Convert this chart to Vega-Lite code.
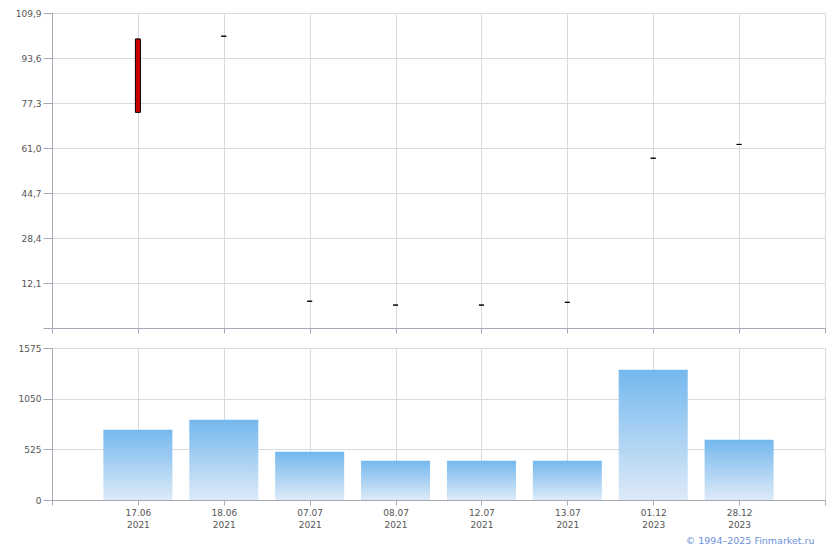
{
  "$schema": "https://vega.github.io/schema/vega-lite/v6.json",
  "padding": {"left": 15, "top": 9, "right": 5, "bottom": 3},
  "background": "white",
  "datasets": {
    "quotes": [
      {"date": "17.06 2021", "open": 100.5, "close": 73.9, "high": 100.7, "low": 73.9, "volume": 728},
      {"date": "18.06 2021", "open": 101.5, "close": 101.5, "high": 101.5, "low": 101.5, "volume": 832},
      {"date": "07.07 2021", "open": 5.5, "close": 5.5, "high": 5.5, "low": 5.5, "volume": 500},
      {"date": "08.07 2021", "open": 4.1, "close": 4.1, "high": 4.1, "low": 4.1, "volume": 407},
      {"date": "12.07 2021", "open": 4.1, "close": 4.1, "high": 4.1, "low": 4.1, "volume": 407},
      {"date": "13.07 2021", "open": 5.1, "close": 5.1, "high": 5.1, "low": 5.1, "volume": 407},
      {"date": "01.12 2023", "open": 57.3, "close": 57.3, "high": 57.3, "low": 57.3, "volume": 1350},
      {"date": "28.12 2023", "open": 62.3, "close": 62.3, "high": 62.3, "low": 62.3, "volume": 625}
    ]
  },
  "data": {"name": "quotes"},
  "config": {
    "view": {"stroke": null},
    "axis": {
      "domainColor": "#a6aab6",
      "tickColor": "#a6aab6",
      "gridColor": "#d5dce1",
      "labelColor": "#555555",
      "labelFont": "DejaVu Sans",
      "labelFontSize": 9,
      "title": null
    }
  },
  "bounds": "flush",
  "spacing": 20,
  "title": {
    "text": "© 1994–2025 Finmarket.ru",
    "orient": "bottom",
    "anchor": "end",
    "font": "DejaVu Sans",
    "fontSize": 9.5,
    "fontWeight": "normal",
    "color": "#6c8fd9",
    "offset": 7,
    "dx": -11
  },
  "vconcat": [
    {
      "width": 773,
      "height": 315,
      "encoding": {
        "x": {
          "field": "date",
          "type": "ordinal",
          "sort": null,
          "scale": {"type": "point", "padding": 0, "domain": ["L", "17.06 2021", "18.06 2021", "07.07 2021", "08.07 2021", "12.07 2021", "13.07 2021", "01.12 2023", "28.12 2023", "R"]},
          "axis": {"labels": false, "tickSize": 5, "grid": true, "title": null}
        }
      },
      "layer": [
        {
          "mark": {"type": "rule", "color": "#000000", "strokeWidth": 1},
          "encoding": {
            "y": {
              "field": "low",
              "type": "quantitative",
              "scale": {"domain": [-4.2, 109.9], "nice": false, "zero": false},
              "axis": {
                "values": [-4.2, 12.1, 28.4, 44.7, 61.0, 77.3, 93.6, 109.9],
                "labelExpr": "datum.value < 0 ? '' : replace(format(datum.value, '.1f'), '.', ',')",
                "tickSize": 9,
                "labelPadding": 2,
                "grid": true,
                "title": null
              }
            },
            "y2": {"field": "high"}
          }
        },
        {
          "mark": {"type": "bar", "size": 5, "stroke": "#000000", "strokeWidth": 1},
          "encoding": {
            "y": {"field": "open", "type": "quantitative"},
            "y2": {"field": "close"},
            "fill": {"condition": {"test": "datum.close < datum.open", "value": "#cc0000"}, "value": "#ffffff"}
          }
        }
      ]
    },
    {
      "width": 773,
      "height": 152,
      "mark": {
        "type": "bar",
        "size": 69,
        "color": {
          "gradient": "linear",
          "x1": 0, "y1": 0, "x2": 0, "y2": 1,
          "stops": [
            {"offset": 0, "color": "#74b8ee"},
            {"offset": 1, "color": "#ddeaf7"}
          ]
        }
      },
      "encoding": {
        "x": {
          "field": "date",
          "type": "ordinal",
          "sort": null,
          "scale": {"type": "point", "padding": 0, "domain": ["L", "17.06 2021", "18.06 2021", "07.07 2021", "08.07 2021", "12.07 2021", "13.07 2021", "01.12 2023", "28.12 2023", "R"]},
          "axis": {
            "labelExpr": "datum.value == 'L' || datum.value == 'R' ? '' : split(datum.value, ' ')",
            "labelAngle": 0,
            "tickSize": 5,
            "labelPadding": 3,
            "labelLineHeight": 12,
            "grid": true,
            "title": null
          }
        },
        "y": {
          "field": "volume",
          "type": "quantitative",
          "scale": {"domain": [0, 1575], "nice": false},
          "axis": {"values": [0, 525, 1050, 1575], "format": "d", "tickSize": 9, "labelPadding": 2, "grid": true, "title": null}
        }
      }
    }
  ]
}
